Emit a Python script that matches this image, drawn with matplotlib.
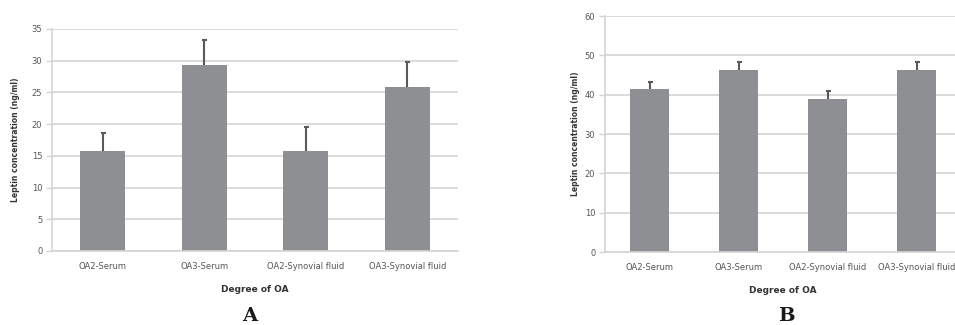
import numpy as np
import matplotlib.pyplot as plt

groups = ['OA2-Serum', 'OA3-Serum', 'OA2-Synovial fluid', 'OA3-Synovial fluid']

# panel A: leptin (ng/ml), mean and upper SD
means_a = [15.8, 29.3, 15.8, 25.9]
sd_a = [2.85, 3.9, 3.75, 3.9]

# panel B
means_b = [41.5, 46.2, 39.0, 46.2]
sd_b = [1.7, 2.0, 1.9, 2.0]

W, H = 955, 325
bar_color = '#8e8f93'
grid_color = '#d4d4d4'
text_color = '#555555'


def panel(rect, means, sd, ymax, step, ylabel_x):
    ax = fig.add_axes(rect)
    x = np.arange(len(groups))
    ax.bar(x, means, width=0.44, color=bar_color, zorder=2)
    eb = ax.errorbar(x, means, yerr=[np.zeros(len(sd)), sd], fmt='none',
                     ecolor='#5a5a5e', elinewidth=1.5, capsize=1.8, capthick=1.5, zorder=3)
    # only the upper cap is shown
    eb[1][0].set_visible(False)
    ax.set_xlim(-0.5, len(groups) - 0.5)
    ax.set_ylim(0, ymax)
    ax.set_yticks(np.arange(0, ymax + 1, step))
    ax.set_xticks(x)
    ax.set_xticklabels(groups)
    ax.yaxis.grid(True, color=grid_color, lw=1.2, zorder=0)
    ax.set_axisbelow(True)
    for s in ['top', 'right']:
        ax.spines[s].set_visible(False)
    for s in ['left', 'bottom']:
        ax.spines[s].set_color(grid_color)
        ax.spines[s].set_linewidth(1.2)
    ax.tick_params(axis='y', colors=grid_color, labelcolor=text_color, labelsize=6, length=4, width=1, pad=3)
    ax.tick_params(axis='x', length=0, labelcolor=text_color, labelsize=6, pad=8)
    ax.set_xlabel('Degree of OA', fontsize=6.5, fontweight='bold', color='#333333', labelpad=10)
    ax.text(ylabel_x, 0.5, 'Leptin concentration (ng/ml)', transform=ax.transAxes,
            rotation=90, ha='center', va='center', fontsize=5.5, fontweight='bold', color='#333333')
    return ax


fig = plt.figure(figsize=(W / 100, H / 100), dpi=100)

ax_a = panel([52 / W, (H - 251) / H, 406 / W, 222 / H], means_a, sd_a, 35, 5, -0.09)
ax_b = panel([605 / W, (H - 252) / H, 356 / W, 236 / H], means_b, sd_b, 60, 10, -0.083)

fig.text(250 / W, 1 - 316 / H, 'A', ha='center', va='center', fontsize=14,
         fontweight='bold', family='DejaVu Serif', color='#1a1a1a')
fig.text(786 / W, 1 - 316 / H, 'B', ha='center', va='center', fontsize=14,
         fontweight='bold', family='DejaVu Serif', color='#1a1a1a')

fig.savefig('out.png', dpi=100, facecolor='white')
